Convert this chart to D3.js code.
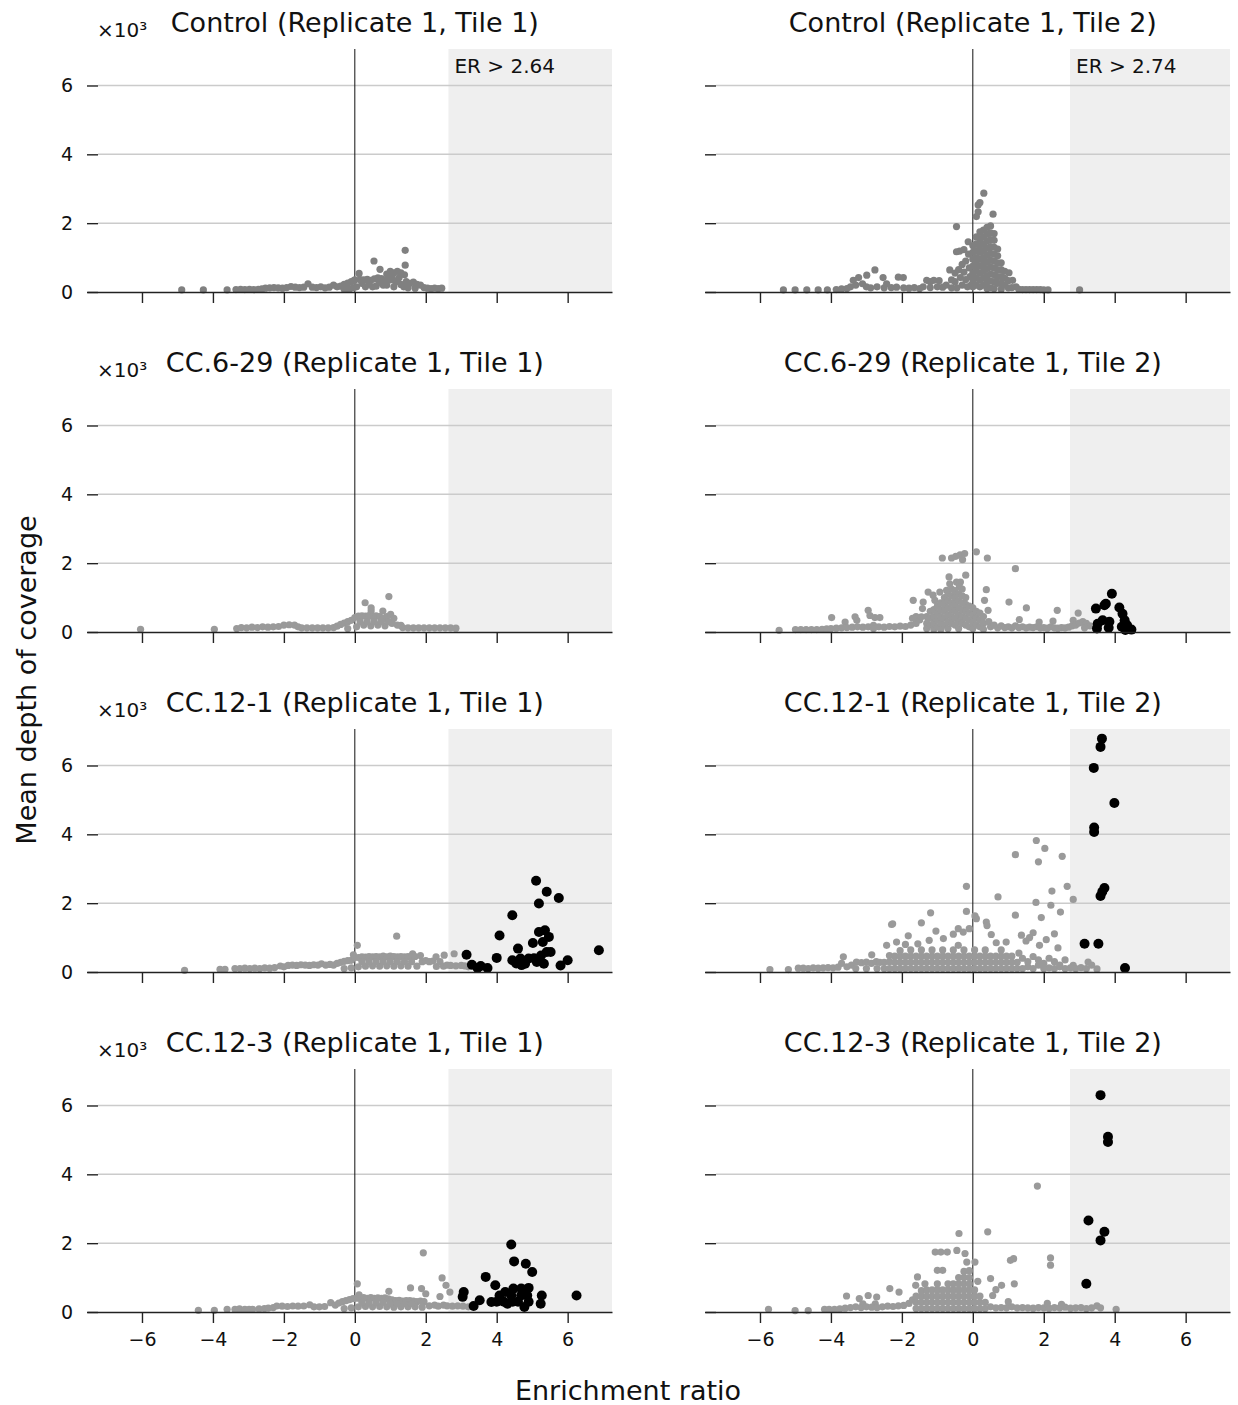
<!DOCTYPE html>
<html>
<head>
<meta charset="utf-8">
<title>Enrichment ratio vs coverage</title>
<script src="https://cdn.jsdelivr.net/npm/d3@7"></script>
<style>
body{
    margin: 0;
    background: #fff;
}
text {
    font-family: "DejaVu Sans", sans-serif;
    fill: #111;
}
.grid line { stroke: #cbcbcb; stroke-width: 1.5px; }
.zero { stroke: #111; stroke-width: 1px; }
.shade { fill: #efefef; }
.axis path, .axis line { stroke: #222; stroke-width: 1.4px; }
</style>
</head>
<body>
<svg id="chart" width="1238" height="1405"></svg>
<script>
var titles = [
    'Control (Replicate 1, Tile 1)', 'Control (Replicate 1, Tile 2)',
    'CC.6-29 (Replicate 1, Tile 1)', 'CC.6-29 (Replicate 1, Tile 2)',
    'CC.12-1 (Replicate 1, Tile 1)', 'CC.12-1 (Replicate 1, Tile 2)',
    'CC.12-3 (Replicate 1, Tile 1)', 'CC.12-3 (Replicate 1, Tile 2)'
];
var thresholds = [2.64, 2.74];   // tile 1, tile 2
var xTicks = [-6, -4, -2, 0, 2, 4, 6];
var yTicks = [0, 2000, 4000, 6000];

// [enrichment ratio, mean depth]
var ctrlT1 = [[-4.88,60],[-4.27,60],[-3.6,60],
    [-3.35,70],[-3.22,80],[-3.1,70],[-2.97,80],[-2.85,70],[-2.72,80],[-2.62,90],
    [-2.52,110],[-2.4,120],[-2.28,130],[-2.16,120],[-2.04,110],
    [-1.92,130],[-1.8,160],[-1.68,140],[-1.56,130],[-1.44,140],[-1.32,240],[-1.2,140],[-1.08,130],[-0.96,150],[-0.84,120],[-0.72,140],[-0.6,200],[-0.5,150],
    [-0.4,170],[-0.3,220],[-0.3,80],[-0.2,260],[-0.15,90],[-0.1,300],[-0.03,330],[-0.05,120],
    [0.0,350],[0.05,150],[0.12,540],[0.15,360],[0.25,350],[0.3,150],[0.35,370],[0.45,340],[0.5,150],[0.2,250],[0.4,230],
    [0.55,380],[0.65,410],[0.75,390],[0.6,170],[0.8,200],[0.7,280],[0.85,330],
    [0.9,520],[1.0,600],[1.1,560],[1.2,600],[1.3,560],[1.0,350],[1.2,340],[0.9,200],[1.1,150],[1.3,220],[0.95,400],[1.25,420],[1.05,450],[1.15,300],
    [0.54,900],[0.71,660],[1.42,1210],[1.42,780],
    [1.4,500],[1.45,300],[1.55,250],[1.65,290],[1.75,220],[1.85,200],[1.5,120],[1.7,110],[1.38,150],
    [1.95,130],[2.05,110],[2.15,100],[2.25,110],[2.35,100],[2.45,110]];

var ctrlT2 = [[-5.34,60],[-5.01,60],[-4.68,60],[-4.36,60],[-4.1,60],[-3.85,70],[-3.7,90],[-3.55,100],
    [-3.45,150],[-3.37,340],[-3.3,200],[-3.22,420],[-3.11,240],[-2.99,490],[-3.0,150],[-2.88,120],[-2.76,640],[-2.7,150],
    [-2.53,420],[-2.43,240],[-2.5,120],[-2.3,130],[-2.1,430],[-1.96,420],[-2.15,140],[-1.95,120],[-1.8,110],[-1.65,130],[-1.5,100],[-1.4,150],
    [-1.3,340],[-1.2,300],[-1.1,340],[-0.95,330],[-1.2,130],[-1.0,150],[-0.85,140],[-0.65,640],[-0.75,200],
    [-0.6,350],[-0.6,120],[-0.5,550],[-0.5,300],[-0.45,120],[-0.4,650],[-0.35,420],[-0.3,800],[-0.3,200],[-0.25,580],[-0.2,900],[-0.2,360],
    [-0.15,150],[-0.12,1100],[-0.1,700],[-0.08,450],[-0.05,200],
    [-0.46,1170],[-0.37,1190],[-0.25,1230],[-0.13,1460],[-0.46,1900],[0.1,2190],[0.15,2330],[0.15,2530],[0.2,2600],[0.31,2870],[0.57,2260],
    [0.0,1350],[0.0,1150],[0.0,950],[0.0,750],[0.0,550],[0.0,350],[0.0,150],
    [0.1,1600],[0.1,1400],[0.1,1200],[0.1,1000],[0.1,800],[0.1,600],[0.1,400],[0.1,200],
    [0.2,1750],[0.2,1550],[0.2,1350],[0.2,1150],[0.2,950],[0.2,750],[0.2,550],[0.2,350],[0.2,150],
    [0.3,1800],[0.3,1600],[0.3,1400],[0.3,1200],[0.3,1000],[0.3,800],[0.3,600],[0.3,400],[0.3,200],
    [0.4,1880],[0.4,1680],[0.4,1480],[0.4,1280],[0.4,1080],[0.4,880],[0.4,680],[0.4,480],[0.4,280],[0.4,100],
    [0.5,1920],[0.5,1720],[0.5,1520],[0.5,1320],[0.5,1120],[0.5,920],[0.5,720],[0.5,520],[0.5,320],[0.5,120],
    [0.6,1700],[0.6,1500],[0.6,1300],[0.6,1100],[0.6,900],[0.6,700],[0.6,500],[0.6,300],[0.6,100],
    [0.7,1250],[0.7,1050],[0.7,850],[0.7,650],[0.7,450],[0.7,250],
    [0.8,850],[0.8,650],[0.8,450],[0.8,250],[0.8,80],
    [0.9,600],[0.9,400],[0.9,200],[1.02,560],[1.0,330],[1.0,120],[1.12,340],[1.1,130],[1.22,150],
    [1.3,80],[1.4,70],[1.5,70],[1.6,70],[1.7,70],[1.8,70],[1.9,70],[2.0,60],[2.12,60],[3.01,60]];

var cc629T1 = [[-6.04,80],[-3.96,80],
    [-3.33,100],[-3.2,130],[-3.05,120],[-2.9,140],[-2.75,130],[-2.6,150],[-2.45,140],[-2.3,150],[-2.15,160],[-2.0,200],[-1.85,210],[-1.7,200],[-1.6,150],
    [-1.5,120],[-1.35,120],[-1.2,120],[-1.05,120],[-0.9,120],[-0.75,120],[-0.6,130],
    [-0.5,170],[-0.4,220],[-0.3,260],[-0.2,300],[-0.1,340],[-0.2,100],
    [0.0,420],[0.05,150],[0.1,460],[0.2,470],[0.29,850],[0.3,460],[0.25,200],[0.4,480],[0.46,610],[0.46,700],[0.5,450],[0.45,180],
    [0.6,470],[0.65,200],[0.7,450],[0.79,610],[0.8,400],[0.85,180],[0.96,1030],[0.9,450],[1.01,510],[1.05,250],[1.1,400],
    [0.15,300],[0.35,300],[0.55,300],[0.75,300],[0.95,300],
    [1.2,200],[1.3,190],[1.35,130],[1.5,120],[1.65,120],[1.8,120],[1.95,120],[2.1,120],[2.25,120],[2.4,120],[2.55,120],[2.7,120],[2.85,110]];

var cc629T2 = [[-5.46,50],[-5.0,70],[-4.85,70],[-4.7,70],[-4.55,70],[-4.4,70],[-4.25,80],[-4.12,90],
    [-3.98,420],[-3.6,290],[-3.32,440],[-3.27,340],[-2.95,630],[-2.9,480],[-2.76,420],[-2.62,420],[-2.8,190],
    [-4.0,100],[-3.85,110],[-3.7,120],[-3.55,130],[-3.4,140],[-3.25,150],[-3.1,140],[-2.95,150],[-2.8,100],[-2.65,150],[-2.5,140],
    [-2.35,160],[-2.2,150],[-2.05,170],[-1.9,160],[-1.75,200],[-1.6,250],[-1.5,350],[-1.6,450],[-1.7,400],
    [-1.68,920],[-1.4,870],[-1.42,680],[-1.45,440],[-1.26,1160],[-1.12,1070],[-1.07,920],[-0.93,1160],
    [-0.86,2150],[-0.6,2150],[-0.48,2200],[-0.36,2240],[-0.29,2100],[-0.23,2280],[0.1,2330],[0.41,2150],[1.2,1840],
    [-0.67,1600],[-0.65,1400],[-0.46,1450],[-0.35,1450],[-0.2,1650],[-0.38,1310],[-0.74,1210],
    [0.38,1230],[0.33,920],[0.43,630],
    [1.02,870],[1.51,700],[1.31,360],[1.87,290],[2.38,630],[2.26,320],[2.97,550],[2.83,340],
    [-1.3,450],[-1.3,250],[-1.3,100],[-1.2,600],[-1.2,400],[-1.2,200],
    [-1.1,650],[-1.1,450],[-1.1,250],[-1.1,80],[-1.0,750],[-1.0,550],[-1.0,350],[-1.0,150],
    [-0.9,850],[-0.9,650],[-0.9,450],[-0.9,250],[-0.9,80],[-0.8,1000],[-0.8,800],[-0.8,600],[-0.8,400],[-0.8,200],
    [-0.7,1100],[-0.7,900],[-0.7,700],[-0.7,500],[-0.7,300],[-0.7,100],
    [-0.6,1250],[-0.6,1050],[-0.6,850],[-0.6,650],[-0.6,450],[-0.6,250],
    [-0.5,1200],[-0.5,1000],[-0.5,800],[-0.5,600],[-0.5,400],[-0.5,200],
    [-0.4,1100],[-0.4,900],[-0.4,700],[-0.4,500],[-0.4,300],[-0.4,100],
    [-0.3,1250],[-0.3,1050],[-0.3,850],[-0.3,650],[-0.3,450],[-0.3,250],
    [-0.2,1000],[-0.2,800],[-0.2,600],[-0.2,400],[-0.2,200],
    [-0.1,750],[-0.1,550],[-0.1,350],[-0.1,150],[0.0,700],[0.0,500],[0.0,300],[0.0,100],
    [0.1,600],[0.1,400],[0.1,200],[0.2,550],[0.2,350],[0.2,150],[0.3,450],[0.3,250],[0.3,80],
    [0.45,300],[0.5,150],[0.6,200],[0.7,120],[0.8,180],[0.9,130],[1.0,150],[1.1,120],[1.2,180],[1.3,130],[1.4,150],[1.5,120],
    [1.6,140],[1.7,130],[1.8,150],[1.9,120],[2.0,130],[2.1,110],[2.2,150],[2.3,120],[2.4,110],[2.5,130],[2.6,120],[2.7,140],
    [2.8,180],[2.9,200],[3.0,260],[3.1,300],[3.2,250],[3.3,180],[3.15,120]];
var cc629T2Hits = [[3.92,1110],[3.47,680],[3.71,775],[3.75,820],[4.13,710],[4.22,530],[4.28,340],[4.35,195],[4.47,70],
    [3.52,240],[3.66,340],[3.83,125],[3.85,300],[3.5,100],[4.2,150],[4.3,60]];

var cc121T1 = [[-4.8,50],[-3.8,80],[-3.66,80],
    [-3.38,100],[-3.24,100],[-3.1,110],[-2.96,100],[-2.82,110],[-2.68,100],[-2.54,120],[-2.4,110],[-2.26,130],[-2.1,175],[-2.0,150],
    [-1.88,190],[-1.76,200],[-1.64,190],[-1.52,210],[-1.4,200],[-1.28,190],[-1.16,210],[-1.04,200],[-0.94,240],[-0.82,200],[-0.7,220],[-0.6,200],
    [-0.5,250],[-0.4,280],[-0.3,310],[-0.2,330],[-0.1,340],[-0.3,100],[-0.1,120],
    [-0.04,500],[0.07,775],[0.0,420],[0.1,420],[0.1,150],[0.2,440],[0.3,430],[0.3,170],[0.4,450],[0.5,440],[0.5,180],[0.6,450],
    [0.7,440],[0.7,170],[0.8,460],[0.9,440],[0.9,180],[1.0,460],[1.1,450],[1.1,170],[1.18,1040],[1.2,440],[1.3,450],[1.3,180],
    [1.4,440],[1.5,450],[1.5,170],[1.63,530],[1.6,440],[1.7,450],[1.75,170],[1.85,480],[1.9,300],
    [0.2,300],[0.4,300],[0.6,300],[0.8,300],[1.0,300],[1.2,300],[1.4,300],[1.6,300],
    [2.0,330],[2.1,300],[2.2,320],[2.29,440],[2.3,160],[2.4,300],[2.52,490],[2.5,170],[2.6,200],[2.8,530],[2.7,190],[2.85,180],[3.0,190],[3.1,180],[3.2,150]];
var cc121T1Hits = [[3.15,500],[3.3,210],[3.55,175],[3.74,115],[3.46,115],[4.0,410],[4.08,1060],[4.44,1650],[4.44,340],[4.6,680],
    [4.67,390],[4.8,240],[4.9,390],[5.11,2650],[5.19,1990],[5.41,2330],[5.75,2150],[5.02,840],[5.19,1160],[5.3,870],[5.47,1020],
    [5.36,1210],[5.41,580],[5.52,580],[5.25,480],[5.13,290],[5.33,240],[5.05,400],[5.8,190],[6.0,340],[6.88,630],[4.55,250],[4.7,200]];

var cc121T2 = [[-5.72,70],[-5.2,70],[-4.92,110],[-4.78,110],[-4.64,100],[-4.5,120],[-4.36,110],[-4.22,120],[-4.08,130],[-3.94,120],[-3.8,140],[-3.65,440],[-3.7,250],
    [-3.55,150],[-3.42,200],[-3.28,290],[-3.14,270],[-3.0,290],[-2.85,500],[-2.86,250],[-2.72,300],[-2.62,280],[-3.3,100],[-3.0,100],[-2.7,100],
    [-2.43,775],[-2.29,1380],[-2.26,1400],[-1.45,1430],[-1.19,1720],[-1.04,1190],[-1.82,1050],[-2.15,870],[-1.23,920],[-0.83,970],[-1.9,800],[-1.55,820],
    [-0.18,2490],[-0.18,1760],[0.06,1630],[0.1,1550],[-0.41,1260],[-0.27,1160],[-0.1,1260],[-0.55,1100],[-0.41,775],
    [0.38,1450],[0.4,1350],[0.71,2180],[1.2,3410],[1.79,3820],[2.03,3590],[1.85,3200],[2.52,3360],[2.23,2350],[2.66,2490],[2.83,2110],
    [1.78,2020],[2.2,1940],[2.47,1740],[1.2,1650],[1.93,1580],[0.52,1090],[0.66,850],[0.94,870],[1.37,1070],[1.7,1140],[1.6,1000],[1.5,900],
    [2.3,1110],[2.07,940],[2.4,700],[1.88,775],[3.25,290],[2.83,190],
    [-2.5,100],[-2.5,280],[-2.35,100],[-2.35,300],[-2.35,480],[-2.2,100],[-2.2,280],[-2.2,460],
    [-2.05,100],[-2.05,280],[-2.05,460],[-2.05,620],[-1.9,100],[-1.9,280],[-1.9,460],
    [-1.75,100],[-1.75,280],[-1.75,460],[-1.75,640],[-1.6,100],[-1.6,280],[-1.6,460],
    [-1.45,100],[-1.45,280],[-1.45,460],[-1.45,640],[-1.3,100],[-1.3,280],[-1.3,460],
    [-1.15,100],[-1.15,280],[-1.15,460],[-1.15,640],[-1.0,100],[-1.0,280],[-1.0,460],
    [-0.85,100],[-0.85,280],[-0.85,460],[-0.85,640],[-0.7,100],[-0.7,280],[-0.7,460],
    [-0.55,100],[-0.55,280],[-0.55,460],[-0.55,640],[-0.4,100],[-0.4,280],[-0.4,460],
    [-0.25,100],[-0.25,280],[-0.25,460],[-0.25,640],[-0.1,100],[-0.1,280],[-0.1,460],
    [0.05,100],[0.05,280],[0.05,460],[0.05,640],[0.2,100],[0.2,280],[0.2,460],
    [0.35,100],[0.35,280],[0.35,460],[0.35,640],[0.5,100],[0.5,280],[0.5,460],
    [0.65,100],[0.65,280],[0.65,460],[0.8,100],[0.8,280],[0.8,460],[0.8,640],
    [0.95,100],[0.95,280],[0.95,460],[1.1,100],[1.1,280],[1.1,460],[1.25,100],[1.25,280],
    [1.4,100],[1.55,150],[1.7,100],[1.85,200],[2.0,100],[2.15,120],[2.3,100],[2.45,150],[2.6,100],[2.75,120],[2.9,100],[3.05,130],[3.2,100],[3.35,200],[3.5,90],
    [1.4,400],[1.55,300],[1.7,450],[1.85,350],[2.0,250],[2.15,400],[2.3,300],[2.45,200],[2.6,350],[1.3,550]];
var cc121T2Hits = [[3.64,6780],[3.6,6540],[3.41,5930],[3.99,4910],[3.42,4200],[3.42,4070],[3.71,2440],[3.6,2210],[3.65,2330],[3.15,820],[3.54,820],[4.29,115]];

var cc123T1 = [[-4.41,50],[-3.96,50],[-3.6,80],[-3.38,80],[-3.25,90],[-3.1,80],[-2.98,80],[-2.88,80],[-2.7,90],[-2.55,100],[-2.44,115],[-2.3,130],
    [-2.2,175],[-2.05,170],[-1.9,160],[-1.75,175],[-1.6,170],[-1.44,175],[-1.27,210],[-1.15,150],[-1.0,150],[-0.85,160],[-0.68,270],[-0.55,200],
    [-0.45,260],[-0.35,300],[-0.25,330],[-0.15,360],[-0.05,390],[-0.3,100],[-0.1,120],
    [0.07,820],[0.12,500],[0.05,400],[0.15,400],[0.1,150],[0.25,420],[0.35,400],[0.3,160],[0.45,420],[0.55,400],[0.5,150],[0.65,410],[0.75,400],
    [0.7,160],[0.85,410],[0.96,600],[0.95,380],[0.9,150],[1.05,350],[1.15,330],[1.1,140],[1.25,340],[1.35,320],[1.3,150],[1.45,330],[1.57,700],
    [1.55,330],[1.5,150],[1.65,320],[1.75,300],[1.7,150],[1.88,680],[1.85,320],[2.0,530],[1.93,1720],[1.95,300],[1.9,140],
    [0.2,280],[0.4,280],[0.6,280],[0.8,280],[1.0,240],[1.2,240],[1.4,240],[1.6,240],
    [2.46,990],[2.57,775],[2.68,580],[2.4,450],[2.1,180],[2.25,200],[2.35,170],[2.5,200],[2.6,180],[2.75,170],[2.9,180],[3.05,170],[3.2,150]];
var cc123T1Hits = [[3.07,580],[3.04,440],[3.35,175],[3.52,340],[3.69,1020],[3.85,290],[3.96,775],[4.08,480],[4.24,580],[4.3,240],[4.41,480],
    [4.47,680],[4.45,300],[4.41,1960],[4.49,1470],[4.82,1400],[5.0,1160],[4.69,680],[4.69,480],[4.75,600],[4.86,480],[4.9,700],[4.78,145],
    [4.6,300],[4.2,300],[5.27,480],[5.24,240],[6.25,480],[4.0,300],[4.9,300]];

var cc123T2 = [[-5.76,80],[-5.01,40],[-4.64,40],[-4.18,80],[-4.05,80],[-3.9,80],[-3.75,90],
    [-3.56,465],[-3.2,390],[-2.95,480],[-2.71,435],[-3.1,240],[-2.75,240],[-2.34,680],[-2.08,580],
    [-3.6,110],[-3.45,130],[-3.3,150],[-3.15,130],[-3.0,150],[-2.85,140],[-2.7,130],[-2.55,150],[-2.4,170],[-2.25,160],[-2.1,180],[-1.95,190],[-1.8,250],[-1.7,350],
    [-1.56,1020],[-1.61,775],[-1.35,820],[-1.06,1740],[-0.9,1740],[-0.72,1740],[-0.45,1790],[-1.0,1210],[-0.85,1210],[-0.39,2280],
    [-0.22,1700],[-0.17,1450],[0.06,1450],[0.42,2330],[1.06,1500],[1.15,1550],[1.82,3660],[2.19,1570],[2.19,1360],
    [0.14,890],[0.5,970],[0.81,775],[1.17,820],[0.56,480],[0.65,650],
    [-1.6,100],[-1.6,280],[-1.6,460],[-1.45,100],[-1.45,280],[-1.45,460],[-1.45,620],
    [-1.3,100],[-1.3,280],[-1.3,460],[-1.3,640],[-1.15,100],[-1.15,280],[-1.15,460],[-1.15,640],
    [-1.0,100],[-1.0,280],[-1.0,460],[-1.0,640],[-1.0,820],[-0.85,100],[-0.85,280],[-0.85,460],[-0.85,640],
    [-0.7,100],[-0.7,280],[-0.7,460],[-0.7,640],[-0.7,820],[-0.55,100],[-0.55,280],[-0.55,460],[-0.55,640],[-0.55,820],
    [-0.4,100],[-0.4,280],[-0.4,460],[-0.4,640],[-0.4,820],[-0.4,1000],
    [-0.25,100],[-0.25,280],[-0.25,460],[-0.25,640],[-0.25,820],[-0.25,1000],[-0.25,1180],
    [-0.1,100],[-0.1,280],[-0.1,460],[-0.1,640],[-0.1,820],[-0.1,1000],[-0.1,1200],
    [0.05,100],[0.05,280],[0.05,460],[0.05,640],[0.2,100],[0.2,280],[0.2,460],[0.35,100],[0.35,280],
    [0.5,150],[0.65,120],[0.8,130],[0.95,120],[1.1,150],[1.25,120],[1.4,130],[1.55,120],[1.7,110],[1.85,130],[2.0,120],[2.15,110],
    [2.3,130],[2.45,120],[2.6,140],[2.75,110],[2.9,120],[3.05,130],[3.2,100],[3.35,120],[3.5,180],[3.6,120],[4.04,80],[2.1,250],[2.5,220],[1.0,300]];
var cc123T2Hits = [[3.6,6300],[3.81,5090],[3.81,4940],[3.26,2660],[3.71,2330],[3.6,2080],[3.2,820]];

var panelData = [
    {gray: ctrlT1,  hits: []},
    {gray: ctrlT2,  hits: []},
    {gray: cc629T1, hits: []},
    {gray: cc629T2, hits: cc629T2Hits},
    {gray: cc121T1, hits: cc121T1Hits},
    {gray: cc121T2, hits: cc121T2Hits},
    {gray: cc123T1, hits: cc123T1Hits},
    {gray: cc123T2, hits: cc123T2Hits}
];

var svg = d3.select('#chart'),
    colLeft = [87, 705],
    panelW = 525,
    rowTop = [49, 389, 729, 1069],
    panelH = 243;

panelData.forEach(function(p, i) {
    var col = i % 2, row = Math.floor(i / 2);
    var x = d3.scaleLinear().domain([-7.55, 7.25]).range([0, panelW]);
    var y = d3.scaleLinear().domain([0, 7060]).range([panelH, 0]);
    var g = svg.append('g')
        .attr('transform', 'translate(' + colLeft[col] + ',' + rowTop[row] + ')');

    g.append('rect')
        .attr('class', 'shade')
        .attr('x', x(thresholds[col]))
        .attr('y', 0)
        .attr('width', panelW - x(thresholds[col]))
        .attr('height', panelH);

    g.append('g').attr('class', 'grid')
        .selectAll('line')
        .data(yTicks.slice(1))
        .enter().append('line')
        .attr('x1', 11).attr('x2', panelW)
        .attr('y1', function(d) { return y(d); })
        .attr('y2', function(d) { return y(d); });

    g.append('line')
        .attr('class', 'zero')
        .attr('x1', x(0)).attr('x2', x(0))
        .attr('y1', 0).attr('y2', panelH);

    var tone = row === 0 ? '#808080' : '#9a9a9a';
    g.append('g').selectAll('circle')
        .data(p.gray)
        .enter().append('circle')
        .attr('cx', function(d) { return x(d[0]); })
        .attr('cy', function(d) { return y(d[1]); })
        .attr('r', 3.6)
        .attr('fill', tone);
    g.append('g').selectAll('circle')
        .data(p.hits)
        .enter().append('circle')
        .attr('cx', function(d) { return x(d[0]); })
        .attr('cy', function(d) { return y(d[1]); })
        .attr('r', 5)
        .attr('fill', '#000');

    var yAxis = d3.axisLeft(y).tickValues(yTicks).tickSize(11).tickPadding(14)
        .tickFormat(col === 0 ? function(d) { return d / 1000; } : function() { return ''; });
    g.append('g').attr('class', 'axis')
        .attr('transform', 'translate(11,0)')
        .call(yAxis)
        .call(function(a) { a.select('.domain').remove(); })
        .selectAll('text').style('font-size', '19px').attr('fill', '#111');

    var xAxis = d3.axisBottom(x).tickValues(xTicks).tickSize(11).tickSizeOuter(0).tickPadding(10)
        .tickFormat(row === 3 ? d3.format('d') : function() { return ''; });
    g.append('g').attr('class', 'axis')
        .attr('transform', 'translate(0,' + panelH + ')')
        .call(xAxis)
        .selectAll('text').style('font-size', '19px').attr('fill', '#111');

    g.append('text')
        .attr('x', x(0))
        .attr('y', -17)
        .attr('text-anchor', 'middle')
        .style('font-size', '27px')
        .text(titles[i]);

    if (col === 0) {
        g.append('text')
            .attr('x', 10)
            .attr('y', -12)
            .style('font-size', '20px')
            .attr('fill', '#333')
            .text('\u00d710\u00b3');
    }
    if (row === 0) {
        g.append('text')
            .attr('x', x(thresholds[col]) + 6)
            .attr('y', 24)
            .style('font-size', '20px')
            .text('ER > ' + thresholds[col]);
    }
});

svg.append('text')
    .attr('x', 628)
    .attr('y', 1400)
    .attr('text-anchor', 'middle')
    .style('font-size', '27px')
    .text('Enrichment ratio');

svg.append('text')
    .attr('transform', 'translate(36,680) rotate(-90)')
    .attr('text-anchor', 'middle')
    .style('font-size', '27px')
    .text('Mean depth of coverage');
</script>
</body>
</html>
